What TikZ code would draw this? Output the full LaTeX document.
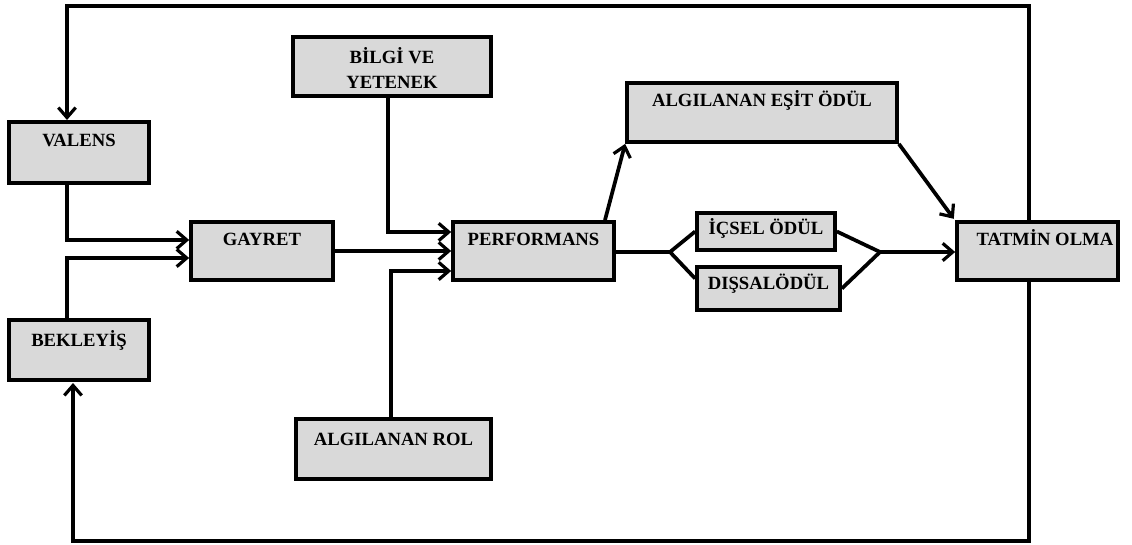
\documentclass[tikz,border=0pt]{standalone}
\usepackage{fontspec}
\setmainfont{Liberation Serif}
\usetikzlibrary{arrows.meta,calc}
\definecolor{boxgray}{HTML}{D9D9D9}
\tikzset{
  box/.style={draw=black, fill=boxgray, line width=2.8pt, inner sep=0pt},
  lbl/.style={anchor=center, inner sep=0pt, font=\fontsize{14}{18.75}\selectfont\bfseries, text height=9.3pt, text depth=0pt},
  lbltwo/.style={anchor=center, inner sep=0pt, font=\fontsize{14}{18.75}\selectfont\bfseries, align=center},
  conn/.style={line width=2.8pt, line join=miter},
  arr/.style={conn, -{Straight Barb[length=7.5pt,width=13pt,line width=2.4pt]}}
}
\begin{document}
\begin{tikzpicture}[x=0.75pt,y=-0.75pt]
\useasboundingbox (0,0) rectangle (1132,545);
% coordinates for the outer loop and the split/join points
\coordinate (rtop) at (1029,6);
\coordinate (rbot) at (1029,541);
\coordinate (split) at (670,252);
\coordinate (join) at (880,252);

% outer loop (drawn first, behind the boxes)
\draw[arr] (rtop |- 0,230) -- (rtop) -| (67,120);
\draw[arr] (rbot |- 0,270) -- (rbot) -| (73,383);

% boxes
\node[box, minimum width=105pt, minimum height=45.75pt, label={[lbl,yshift=-15pt]north:VALENS}] (val) at (79,152.5) {};
\node[box, minimum width=105pt, minimum height=45pt, label={[lbl,yshift=-16.5pt]north:BEKLEYİŞ}] (bek) at (79,350) {};
\node[box, minimum width=106.5pt, minimum height=43.5pt, label={[lbl,yshift=-14.25pt]north:GAYRET}] (gay) at (262,251) {};
\node[box, minimum width=120.75pt, minimum height=43.5pt, label={[lbl,yshift=-14.25pt]north:PERFORMANS}] (perf) at (533.5,251) {};
\node[box, minimum width=148.5pt, minimum height=44.25pt, label={[lbltwo,yshift=-0.8pt]center:BİLGİ VE\\YETENEK}] (bilgi) at (392,66.5) {};
\node[box, minimum width=146.25pt, minimum height=45pt, label={[lbl,yshift=-16.5pt]north:ALGILANAN ROL}] (rol) at (393.5,449) {};
\node[box, minimum width=202.5pt, minimum height=44.25pt, label={[lbl,yshift=-14.6pt]north:ALGILANAN EŞİT ÖDÜL}] (esit) at (762,112.5) {};
\node[box, minimum width=103.5pt, minimum height=27.75pt, label={[lbl,yshift=-13.1pt]north:İÇSEL ÖDÜL}] (icsel) at (766,231.5) {};
\node[box, minimum width=107.25pt, minimum height=32.25pt, label={[lbl,yshift=-13.9pt]north:DIŞSALÖDÜL}] (dis) at (768.5,288.5) {};
\node[box, minimum width=120.75pt, minimum height=43.5pt, label={[lbl,yshift=-14.25pt,xshift=5.6pt]north:TATMİN OLMA}] (tat) at (1037.5,251) {};

% connectors
\draw[arr] ([xshift=-9pt]val.south) |- ([yshift=8.25pt]gay.west);
\draw[arr] ([xshift=-9pt]bek.north) |- ([yshift=-5.25pt]gay.west);
\draw[arr] (gay.east) -- (perf.west);
\draw[arr] ([xshift=-3pt]bilgi.south) |- ([yshift=14.25pt]perf.west);
\draw[arr] ([xshift=-1.9pt]rol.north) |- ([yshift=-15pt]perf.west);
\draw[arr] ([xshift=53.6pt]perf.north) -- (esit.south west);
\draw[arr] (esit.south east) -- ([xshift=-1pt,yshift=1pt]tat.north west);
\draw[conn] (perf.east |- split) -- (split);
\draw[conn] (split) -- (icsel.west);
\draw[conn] (split) -- ([yshift=7.5pt]dis.west);
\draw[conn] (icsel.east) -- (join);
\draw[conn] (dis.east) -- (join);
\draw[arr] (join) -- (tat.west |- join);
\end{tikzpicture}
\end{document}
